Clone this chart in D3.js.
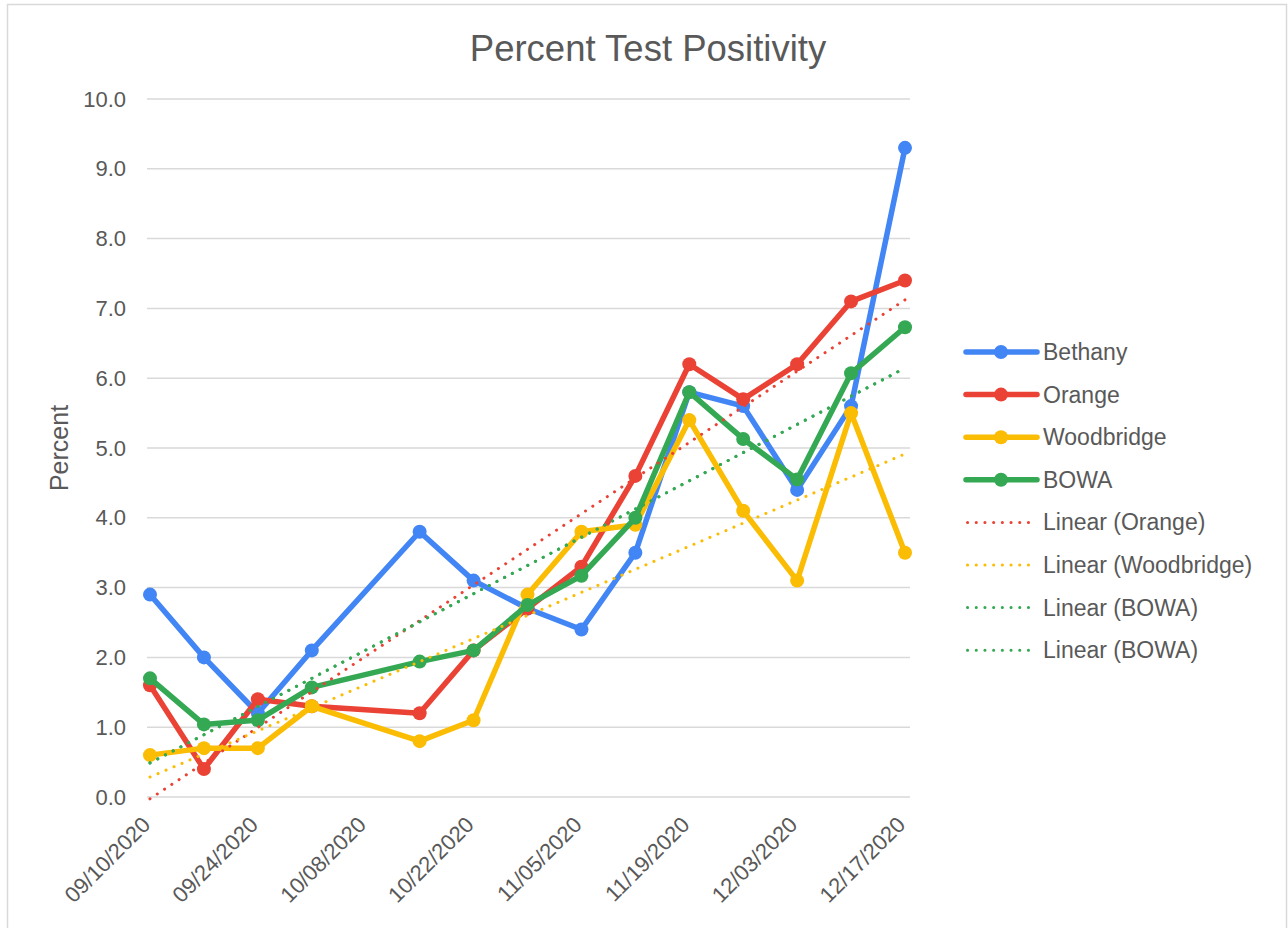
<!DOCTYPE html>
<html>
<head>
<meta charset="utf-8">
<script src="https://cdn.jsdelivr.net/npm/d3@7"></script>
<style>
    html, body {
        margin: 0;
        padding: 0;
        background: #fff;
    }
    text {
        font-family: "Liberation Sans", Arial, sans-serif;
        fill: #595959;
    }
</style>
</head>
<body>
<script>
    var width = 1288;
    var height = 928;

    // weekly dates (10/08 has no reading)
    var dates = ["09/10/2020", "09/17/2020", "09/24/2020", "10/01/2020", "10/15/2020", "10/22/2020", "10/29/2020",
        "11/05/2020", "11/12/2020", "11/19/2020", "11/26/2020", "12/03/2020", "12/10/2020", "12/17/2020"];
    var bethany = [2.9, 2.0, 1.2, 2.1, 3.8, 3.1, 2.7, 2.4, 3.5, 5.8, 5.6, 4.4, 5.6, 9.3];
    var orange = [1.6, 0.4, 1.4, 1.3, 1.2, 2.1, 2.7, 3.3, 4.6, 6.2, 5.7, 6.2, 7.1, 7.4];
    var woodbridge = [0.6, 0.7, 0.7, 1.3, 0.8, 1.1, 2.9, 3.8, 3.9, 5.4, 4.1, 3.1, 5.5, 3.5];
    var bowa = [1.7, 1.04, 1.1, 1.57, 1.94, 2.1, 2.75, 3.17, 4.0, 5.8, 5.13, 4.55, 6.07, 6.73];
    var tickDates = ["09/10/2020", "09/24/2020", "10/08/2020", "10/22/2020", "11/05/2020", "11/19/2020", "12/03/2020", "12/17/2020"];
    var yTicks = [0, 1, 2, 3, 4, 5, 6, 7, 8, 9, 10];

    var series = [
        { name: "Bethany", values: bethany, color: "#4285F4" },
        { name: "Orange", values: orange, color: "#EA4335" },
        { name: "Woodbridge", values: woodbridge, color: "#FBBC04" },
        { name: "BOWA", values: bowa, color: "#34A853" }
    ];
    // trendlines shown in the chart (BOWA appears twice)
    var trends = [
        { name: "Linear (Orange)", values: orange, color: "#EA4335" },
        { name: "Linear (Woodbridge)", values: woodbridge, color: "#FBBC04" },
        { name: "Linear (BOWA)", values: bowa, color: "#34A853" },
        { name: "Linear (BOWA)", values: bowa, color: "#34A853" }
    ];

    var parse = d3.timeParse("%m/%d/%Y");
    var fmt = d3.timeFormat("%m/%d/%Y");

    var svg = d3.select("body").append("svg")
        .attr("width", width)
        .attr("height", height);

    // chart border
    svg.append("rect")
        .attr("x", 7.5).attr("y", 4.5)
        .attr("width", 1279).attr("height", 940)
        .attr("fill", "none")
        .attr("stroke", "#d9d9d9")
        .attr("stroke-width", 1.5);

    var x = d3.scaleTime()
        .domain([parse(dates[0]), parse(dates[dates.length - 1])])
        .range([150, 905]);
    var y = d3.scaleLinear().domain([0, 10]).range([797, 99]);

    // gridlines
    svg.append("g").selectAll("line")
        .data(yTicks).enter().append("line")
        .attr("x1", 147).attr("x2", 910)
        .attr("y1", function (d) { return y(d); })
        .attr("y2", function (d) { return y(d); })
        .attr("stroke", "#d9d9d9")
        .attr("stroke-width", 1.5);

    // y axis labels
    var yAxis = svg.append("g")
        .attr("transform", "translate(147,0)")
        .call(d3.axisLeft(y).tickValues(yTicks).tickFormat(d3.format(".1f")).tickSize(0).tickPadding(21));
    yAxis.select(".domain").remove();
    yAxis.selectAll("text").style("font-size", "22px").attr("fill", "#595959")
        .style("font-family", "'Liberation Sans', Arial, sans-serif");

    // x axis labels
    var xAxis = svg.append("g")
        .attr("transform", "translate(0,797)")
        .call(d3.axisBottom(x).tickValues(tickDates.map(parse)).tickFormat(fmt).tickSize(0));
    xAxis.select(".domain").remove();
    xAxis.selectAll("text")
        .style("font-size", "22px")
        .style("font-family", "'Liberation Sans', Arial, sans-serif")
        .attr("fill", "#595959")
        .attr("text-anchor", "end")
        .attr("dy", "0")
        .attr("transform", "translate(-1,27) rotate(-45)");

    // title
    svg.append("text")
        .attr("x", 648).attr("y", 61)
        .attr("text-anchor", "middle")
        .style("font-size", "36.5px")
        .text("Percent Test Positivity");

    // y axis title
    svg.append("text")
        .attr("transform", "translate(68,448) rotate(-90)")
        .attr("text-anchor", "middle")
        .style("font-size", "25px")
        .text("Percent");

    var line = d3.line()
        .x(function (d) { return x(d.date); })
        .y(function (d) { return y(d.v); });

    function pts(vals) {
        return vals.map(function (v, i) { return { date: parse(dates[i]), v: v }; });
    }

    series.forEach(function (s) {
        var data = pts(s.values);
        var g = svg.append("g");
        g.append("path")
            .datum(data)
            .attr("d", line)
            .attr("fill", "none")
            .attr("stroke", s.color)
            .attr("stroke-width", 5.5)
            .attr("stroke-linejoin", "round");
        g.selectAll("circle").data(data).enter().append("circle")
            .attr("cx", function (d) { return x(d.date); })
            .attr("cy", function (d) { return y(d.v); })
            .attr("r", 7)
            .attr("fill", s.color);
    });

    // least squares trendline on date values
    function fit(vals) {
        var xs = dates.map(function (d) { return parse(d).getTime() / 864e5; });
        var mx = d3.mean(xs), my = d3.mean(vals);
        var num = 0, den = 0;
        xs.forEach(function (xv, i) { num += (xv - mx) * (vals[i] - my); den += (xv - mx) * (xv - mx); });
        var b = num / den, a = my - b * mx;
        return [xs[0], xs[xs.length - 1]].map(function (xv) {
            return { date: new Date(xv * 864e5), v: a + b * xv };
        });
    }

    trends.forEach(function (t) {
        svg.append("path")
            .datum(fit(t.values))
            .attr("d", line)
            .attr("fill", "none")
            .attr("stroke", t.color)
            .attr("stroke-width", 3)
            .attr("stroke-linecap", "round")
            .attr("stroke-dasharray", "0.1 8.6");
    });

    // legend
    var legendItems = series.map(function (s) { return { name: s.name, color: s.color, dotted: false }; })
        .concat(trends.map(function (t) { return { name: t.name, color: t.color, dotted: true }; }));
    var legend = svg.append("g").attr("transform", "translate(966,352)");
    legendItems.forEach(function (d, i) {
        var g = legend.append("g").attr("transform", "translate(0," + (i * 42.6) + ")");
        if (d.dotted) {
            g.append("line")
                .attr("x1", 1.5).attr("x2", 71).attr("y1", 0).attr("y2", 0)
                .attr("stroke", d.color).attr("stroke-width", 3)
                .attr("stroke-linecap", "round")
                .attr("stroke-dasharray", "0.1 8.6");
        } else {
            g.append("line")
                .attr("x1", 0).attr("x2", 71).attr("y1", 0).attr("y2", 0)
                .attr("stroke", d.color).attr("stroke-width", 5.5)
                .attr("stroke-linecap", "round");
            g.append("circle").attr("cx", 35).attr("cy", 0).attr("r", 7).attr("fill", d.color);
        }
        g.append("text")
            .attr("x", 77).attr("y", 8)
            .style("font-size", "23px")
            .text(d.name);
    });
</script>
</body>
</html>
